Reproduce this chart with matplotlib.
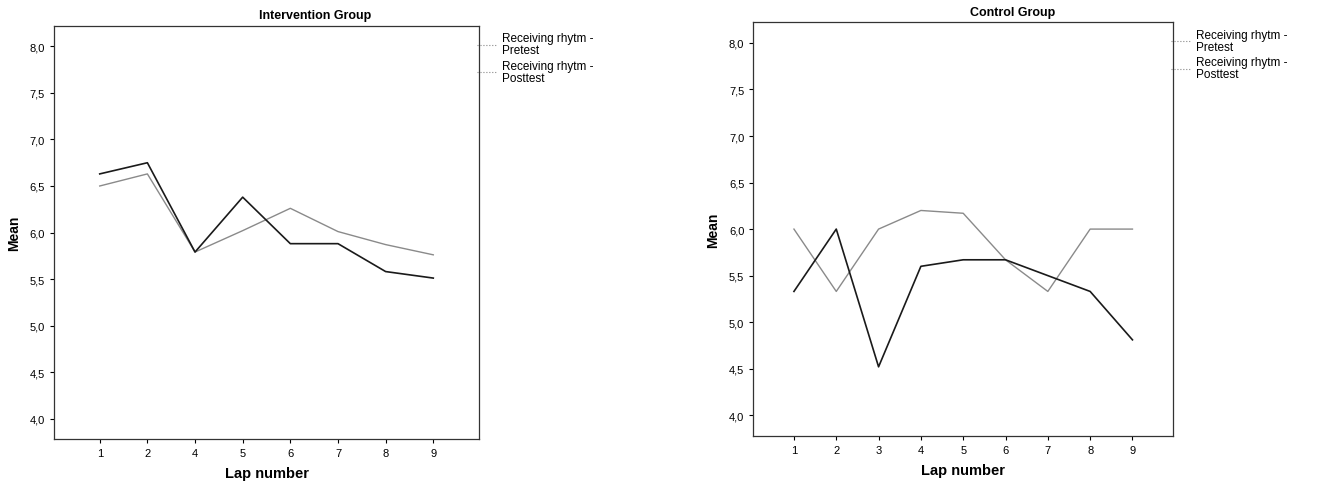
import matplotlib
matplotlib.use("Agg")
import matplotlib.pyplot as plt
import numpy as np

plt.rcParams["font.family"] = ["Liberation Sans", "DejaVu Sans"]

# lap labels shown on each panel
laps_int = ["1", "2", "4", "5", "6", "7", "8", "9"]
laps_ctl = ["1", "2", "3", "4", "5", "6", "7", "8", "9"]

# Intervention group means
int_pre = [6.50, 6.63, 5.79, 6.02, 6.26, 6.01, 5.87, 5.76]
int_post = [6.63, 6.75, 5.79, 6.38, 5.88, 5.88, 5.58, 5.51]

# Control group means
ctl_pre = [6.00, 5.33, 6.00, 6.20, 6.17, 5.67, 5.33, 6.00, 6.00]
ctl_post = [5.33, 6.00, 4.52, 5.60, 5.67, 5.67, 5.50, 5.33, 4.81]

yticks = [4.0, 4.5, 5.0, 5.5, 6.0, 6.5, 7.0, 7.5, 8.0]
ytick_labels = [f"{v:.1f}".replace(".", ",") for v in yticks]

fig = plt.figure(figsize=(13.2, 4.85), dpi=100)
ax1 = fig.add_axes([0.0409, 0.0928, 0.322, 0.8515])
ax2 = fig.add_axes([0.5707, 0.0996, 0.318, 0.852])


def panel(ax, laps, pre, post, title, title_x):
    x = np.arange(len(laps))
    ax.plot(x, pre, color="#8a8a8a", lw=1.0)
    ax.plot(x, post, color="#1a1a1a", lw=1.2)
    ax.set_xlim(-0.96, len(laps) - 1 + 0.96)
    ax.set_ylim(3.78, 8.22)
    ax.set_xticks(x)
    ax.set_xticklabels(laps)
    ax.set_yticks(yticks)
    ax.set_yticklabels(ytick_labels)
    ax.tick_params(labelsize=8, length=3, width=0.8, colors="black")
    for s in ax.spines.values():
        s.set_color("#333333")
        s.set_linewidth(0.9)
    ax.set_xlabel("Lap number", fontsize=10.5, fontweight="bold", labelpad=6)
    ax.set_ylabel("Mean", fontsize=10, fontweight="bold", labelpad=6)
    ax.text(title_x, 1.012, title, transform=ax.transAxes, ha="center",
            va="bottom", fontsize=9, fontweight="bold")

    # legend handles drawn as short dotted samples
    h1, = ax.plot([], [], color="#888888", lw=0.8, ls=":")
    h2, = ax.plot([], [], color="#888888", lw=0.8, ls=":")
    leg = ax.legend([h1, h2], ["Receiving rhytm -\nPretest", "Receiving rhytm -\nPosttest"],
                    loc="upper left", bbox_to_anchor=(0.995, 0.985), frameon=False,
                    fontsize=8.5, handlelength=1.6, handletextpad=0.5,
                    labelspacing=0.3, borderaxespad=0, borderpad=0)
    for t in leg.get_texts():
        t.set_linespacing(1.0)


panel(ax1, laps_int, int_pre, int_post, "Intervention Group", 0.614)
panel(ax2, laps_ctl, ctl_pre, ctl_post, "Control Group", 0.617)

plt.savefig("out.png", dpi=100)
